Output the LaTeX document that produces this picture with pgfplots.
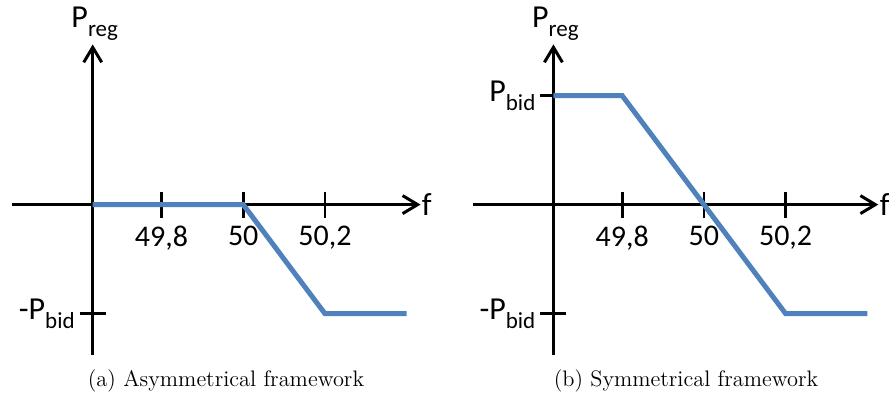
\documentclass[border=0pt]{standalone}
\usepackage{pgfplots}
\pgfplotsset{compat=1.18}
\usetikzlibrary{arrows.meta}
\usepackage{fontspec}
\newfontfamily\calibri{Carlito}
\definecolor{lineblue}{RGB}{79,129,189}
\newcommand{\sub}[1]{\raisebox{-4.5pt}{\fontsize{11.5pt}{13pt}\selectfont #1}}
\pgfplotsset{
  schem/.style={
    scale only axis, height=155.3pt,
    ymin=-1.38, ymax=1.47,
    x coord trafo/.code={\pgfmathparse{##1-49.6316}},
    x coord inv trafo/.code={\pgfmathparse{##1+49.6316}},
    axis lines=middle,
    clip=false,
    axis line style={line width=1.5pt, -{Straight Barb[length=7.5pt,width=9pt]}},
    xtick={49.8,50,50.2},
    xticklabels={{49,8},{\raisebox{2.5pt}{50}},{50,2}},
    tick style={line width=1.3pt, black},
    major tick length=13pt,
    tick align=center,
    ticklabel style={font=\calibri\fontsize{15pt}{18pt}\selectfont},
    xticklabel style={anchor=north, yshift=-0.5pt},
    yticklabel style={anchor=east, xshift=1pt},
    label style={font=\calibri\fontsize{16pt}{19pt}\selectfont},
    xlabel={f},
    ylabel={P\sub{reg}},
    xlabel style={at={(current axis.right of origin)}, anchor=west, inner sep=0pt, xshift=0.5pt},
    ylabel style={at={(current axis.above origin)}, anchor=south, inner sep=1.5pt, xshift=1pt},
  }
}
\begin{document}
\begin{tikzpicture}
\useasboundingbox (0,0) rectangle (444.5pt,-200pt);
\begin{axis}[schem, width=204.25pt, xmin=49.434, xmax=50.434,
  at={(6pt,-177.5pt)}, anchor=south west,
  ytick={-1}, yticklabels={{\fontsize{16pt}{19pt}\selectfont -P\sub{bid}}}]
\addplot[lineblue, line width=2.5pt] coordinates {(49.6316,0) (50,0) (50.2,-1) (50.4,-1)};
\end{axis}
\begin{axis}[schem, width=202.8pt, xmin=49.434, xmax=50.427,
  at={(236.35pt,-177.5pt)}, anchor=south west,
  ytick={-1,1}, yticklabels={{\fontsize{16pt}{19pt}\selectfont -P\sub{bid}},{\fontsize{16pt}{19pt}\selectfont P\sub{bid}}}]
\addplot[lineblue, line width=2.5pt] coordinates {(49.6316,1) (49.8,1) (50.2,-1) (50.4,-1)};
\end{axis}
\node[font=\fontsize{11.2pt}{13pt}\selectfont] at (113pt,-190.5pt) {(a) Asymmetrical framework};
\node[font=\fontsize{11.2pt}{13pt}\selectfont] at (343pt,-190.5pt) {(b) Symmetrical framework};
\end{tikzpicture}
\end{document}
